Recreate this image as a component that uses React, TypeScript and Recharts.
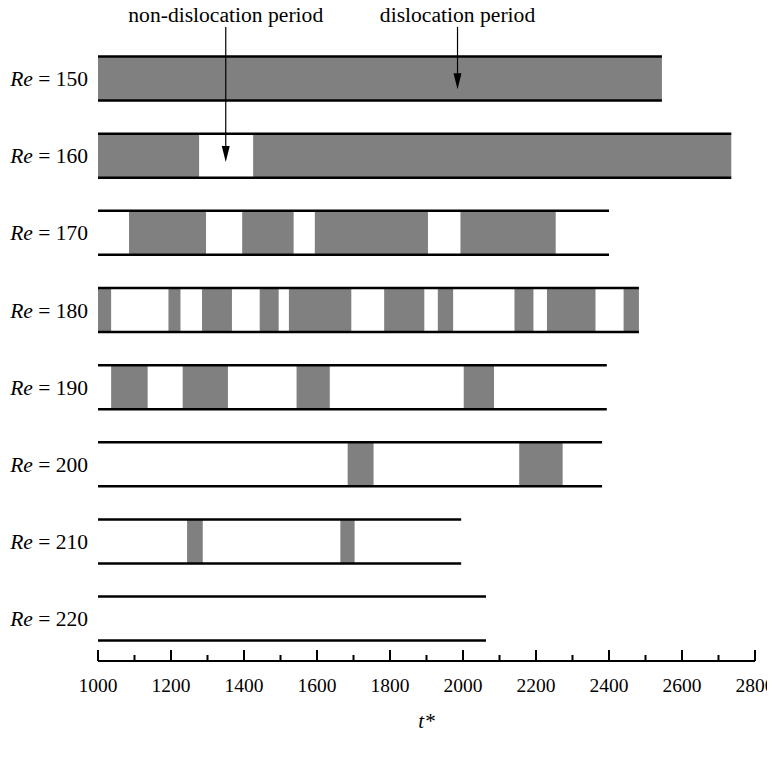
import {
  ComposedChart,
  Line,
  XAxis,
  YAxis,
  ReferenceArea,
  ReferenceLine,
} from 'recharts';

// Reynolds numbers, one row each
const reValues = [150, 160, 170, 180, 190, 200, 210, 220];

// last simulated time of each run
const endTimes = [2545, 2735, 2400, 2482, 2394, 2381, 1995, 2063];

// dislocation periods [start, end] per row
const dislocations: number[][][] = [
  [[1000, 2545]],
  [[1000, 1277], [1425, 2735]],
  [[1085, 1296], [1395, 1536], [1594, 1904], [1993, 2254]],
  [
    [1000, 1036], [1193, 1226], [1285, 1367], [1443, 1495], [1523, 1694],
    [1784, 1894], [1931, 1973], [2141, 2193], [2230, 2363], [2440, 2482],
  ],
  [[1036, 1136], [1232, 1356], [1544, 1635], [2002, 2085]],
  [[1684, 1755], [2154, 2273]],
  [[1244, 1287], [1664, 1703]],
  [],
];

const xTicks = [
  1000, 1100, 1200, 1300, 1400, 1500, 1600, 1700, 1800, 1900,
  2000, 2100, 2200, 2300, 2400, 2500, 2600, 2700, 2800,
];

const annotations = [
  { label: 'non-dislocation period', t: 1350, from: 143.3, to: 160.8 },
  { label: 'dislocation period', t: 1985, from: 143.3, to: 151.4 },
];

const HALF = 2.85;
const FONT = '"Liberation Serif", "Times New Roman", serif';

const XTick = (props: any) => {
  const { x, y, payload } = props;
  const major = payload.value % 200 === 0;
  return (
    <g>
      <line x1={x} y1={y} x2={x} y2={y - (major ? 11 : 6)} stroke="#000" strokeWidth={2} />
      {major && (
        <text x={x} y={y + 31} textAnchor="middle" fontSize={19.5} fontFamily={FONT} fill="#000">
          {payload.value}
        </text>
      )}
    </g>
  );
};

const YTick = (props: any) => {
  const { x, y, payload } = props;
  return (
    <text x={x} y={y} dy="0.35em" textAnchor="end" fontSize={21.5} fontFamily={FONT} fill="#000">
      <tspan fontStyle="italic">Re</tspan> = {payload.value}
    </text>
  );
};

const Arrow = (props: any) => {
  const { x1, y1, x2, y2, text } = props;
  return (
    <g>
      <text x={x1} y={y1 - 5} textAnchor="middle" fontSize={21.6} fontFamily={FONT} fill="#000">
        {text}
      </text>
      <line x1={x1} y1={y1} x2={x2} y2={y2 - 12} stroke="#000" strokeWidth={1.2} />
      <polygon points={`${x2 - 4},${y2 - 16} ${x2 + 4},${y2 - 16} ${x2},${y2}`} fill="#000" />
    </g>
  );
};

const TLabel = (props: any) => {
  const { viewBox } = props;
  return (
    <text
      x={viewBox.x + viewBox.width / 2}
      y={viewBox.y + 67}
      textAnchor="middle"
      fontSize={21}
      fontStyle="italic"
      fontFamily={FONT}
      fill="#000"
    >
      t*
    </text>
  );
};

export default function App() {
  const edges = reValues.flatMap((re, i) => [
    { key: `top-${re}`, data: [{ t: 1000, y: re - HALF }, { t: endTimes[i], y: re - HALF }] },
    { key: `bot-${re}`, data: [{ t: 1000, y: re + HALF }, { t: endTimes[i], y: re + HALF }] },
  ]);

  return (
    <div style={{ width: 775, height: 759, margin: '-8px 0 0 -8px' }}>
      <ComposedChart width={775} height={759} margin={{ top: 40, right: 20, bottom: 38, left: 0 }}>
        <XAxis
          type="number"
          dataKey="t"
          domain={[1000, 2800]}
          ticks={xTicks}
          interval={0}
          allowDataOverflow
          tick={<XTick />}
          tickLine={false}
          tickSize={0}
          tickMargin={0}
          axisLine={{ stroke: '#000', strokeWidth: 2 }}
          height={60}
          label={<TLabel />}
        />
        <YAxis
          type="number"
          domain={[145, 225.5]}
          reversed
          ticks={reValues}
          interval={0}
          allowDataOverflow
          tick={<YTick />}
          tickLine={false}
          axisLine={false}
          tickSize={0}
          tickMargin={10}
          width={98}
        />
        {dislocations.flatMap((segs, i) =>
          segs.map(([a, b]) => (
            <ReferenceArea
              key={`d-${reValues[i]}-${a}`}
              x1={a}
              x2={b}
              y1={reValues[i] - HALF}
              y2={reValues[i] + HALF}
              fill="#808080"
              fillOpacity={1}
              stroke="none"
              ifOverflow="visible"
            />
          ))
        )}
        {edges.map((e) => (
          <Line
            key={e.key}
            data={e.data}
            dataKey="y"
            stroke="#000"
            strokeWidth={2.5}
            dot={false}
            activeDot={false}
            isAnimationActive={false}
          />
        ))}
        {annotations.map((a) => (
          <ReferenceLine
            key={a.label}
            segment={[{ x: a.t, y: a.from }, { x: a.t, y: a.to }]}
            ifOverflow="visible"
            shape={(p: any) => <Arrow {...p} text={a.label} />}
          />
        ))}
      </ComposedChart>
    </div>
  );
}
